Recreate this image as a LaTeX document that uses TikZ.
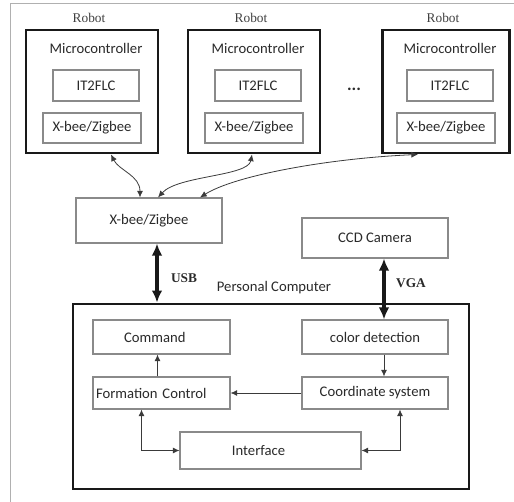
\documentclass[tikz,border=0pt]{standalone}
\usepackage{fontspec}
\setmainfont{Carlito}
\newfontfamily\serifed{Liberation Serif}
\usetikzlibrary{calc,arrows.meta,positioning}
\definecolor{linec}{HTML}{8A8A8A}
\definecolor{textc}{HTML}{2A2A2A}
\definecolor{framec}{HTML}{B0B0B0}
\definecolor{arc}{HTML}{3A3A3A}
\tikzset{
  box/.style={draw=linec,line width=0.8pt,fill=white,inner sep=0pt,text=textc,font=\fontsize{11}{13}\selectfont},
  bigbox/.style={draw=black!90,line width=2.2pt,inner sep=0pt},
  sz/.style 2 args={minimum width=#1*0.75pt,minimum height=#2*0.75pt},
  txt/.style={inner sep=0pt,text=textc,font=\fontsize{11}{13}\selectfont},
  rlab/.style={inner sep=0pt,text=black!75,font=\serifed\fontsize{10}{12}\selectfont},
  blab/.style={inner sep=0pt,text=textc,font=\serifed\bfseries\fontsize{10}{12}\selectfont},
  ar/.style={{Latex[length=5pt,width=4.5pt]}-{Latex[length=5pt,width=4.5pt]},line width=0.6pt,arc},
  ar1/.style={-{Latex[length=5pt,width=4.5pt]},line width=0.6pt,arc},
  bar/.style={{Latex[length=9pt,width=8pt]}-{Latex[length=9pt,width=8pt]},line width=2.3pt,black!90}
}
\begin{document}
\begin{tikzpicture}[x=0.75pt,y=-0.75pt]
\useasboundingbox (0,0) rectangle (514,502);
\draw[framec,line width=0.75pt] (10,502) -- (10,4) -- (514,4);
% robots
\foreach \n/\x/\w in {1/92/132,2/254/132,3/446/127}{
 \node[bigbox,sz={\w}{123}] (r\n) at (\x,91.5) {};
 \node[rlab] (lb\n) at (\x-3,18) {Robot};
 \node[txt] (mc\n) at (\x+4,48) {Microcontroller};
 \node[box,sz={86}{31}] (fl\n) at (\x+4,85.5) {IT2FLC};
 \node[box,sz={98}{30}] (zb\n) at (\x,128) {X-bee/Zigbee};}
\node[txt,font=\bfseries\fontsize{13}{15}\selectfont] (dots) at (354,89) {...};
% base station side
\node[box,sz={146}{45}] (xb) at (149,220.5) {X-bee/Zigbee};
\node[box,sz={146}{40}] (ccd) at (375,238) {CCD Camera};
\node[bigbox,sz={396}{185}] (pc) at (271,396.5) {};
\node[txt] (pclab) at (274,288) {Personal Computer};
\node[box,sz={137}{34}] (cmd) at (161.5,337) {\hspace*{-10pt}Command};
\node[box,sz={137}{32},text width=131*0.75pt,align=left] (fc) at (161.5,393) {Formation Control};
\node[box,sz={146}{34}] (cd) at (375,337) {color detection};
\node[box,sz={146}{32}] (cs) at (375,393) {Coordinate system};
\node[box,sz={181}{37}] (iface) at (270.5,450.5) {\hspace*{-18pt}Interface};
% wireless links
\draw[ar] ($(r1.south)+(19,0)$) .. controls +(8,16) and +(0,-22) .. ($(xb.north)+(-9,0)$);
\draw[ar] ($(r2.south)+(-2,0)$) .. controls +(-4,22) and +(20,-22) .. ($(xb.north)+(9,0)$);
\draw[ar] ($(r3.south)+(-28,0)$) .. controls +(-90,4) and +(35,-22) .. ($(xb.north)+(51,0)$);
% cables
\coordinate (usb) at ($(xb.south)+(8,0)$);
\draw[bar] (usb) -- (usb |- pc.north);
\node[blab] (usblab) at (184,278) {USB};
\coordinate (vga) at ($(ccd.south)+(9,0)$);
\draw[bar] (vga) -- (vga |- cd.north);
\node[blab] (vgalab) at (411,283) {VGA};
% inside the computer
\draw[ar1] ($(fc.north)+(-4,0)$) -- ($(cmd.south)+(-4,0)$);
\draw[ar1] ($(cd.south)+(9,0)$) -- ($(cs.north)+(9,0)$);
\draw[ar1] (cs.west) -- (fc.east);
\draw[ar] ($(fc.south)+(-20,0)$) |- (iface.west);
\draw[ar] (iface.east) -| ($(cs.south)+(25,0)$);
\end{tikzpicture}
\end{document}
